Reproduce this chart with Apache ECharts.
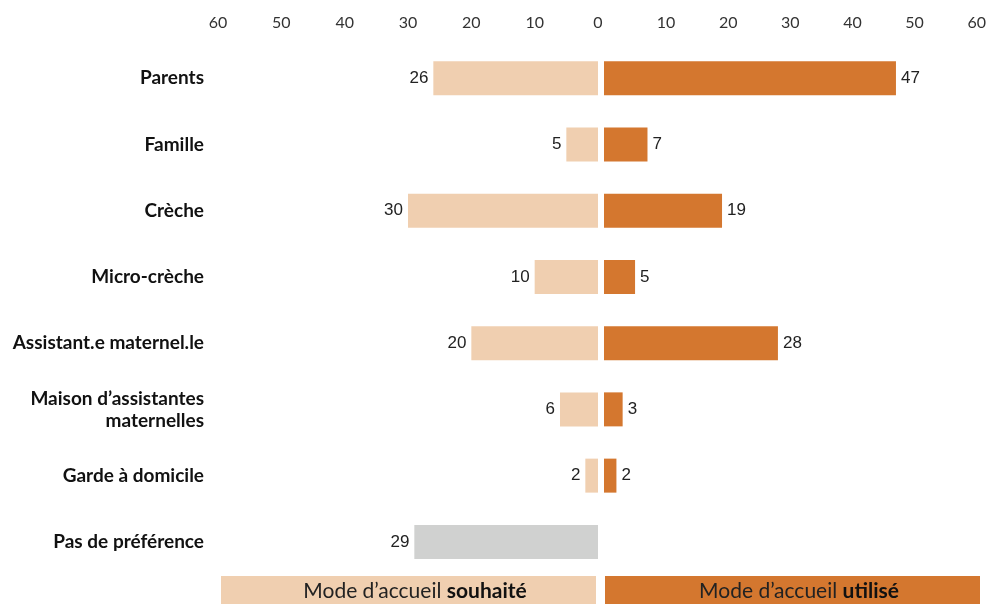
<!DOCTYPE html>
<html><head><meta charset="utf-8">
<script src="https://cdn.jsdelivr.net/npm/echarts@6/dist/echarts.min.js"></script>
<style>html,body{margin:0;padding:0;background:#fff}#c{width:989px;height:604px}</style>
</head><body><div id="c"></div>
<script>
const categories = ['Parents','Famille','Crèche','Micro-crèche','Assistant.e maternel.le',"Maison d’assistantes\nmaternelles",'Garde à domicile','Pas de préférence'];
const souhaite = [26,5,30,10,20,6,2,29];
const utilise = [47,7,19,5,28,3,2,null];
const tickMax = 60, tickStep = 10;
const colSouhaite = '#F0CFB0', colUtilise = '#D4772F', colGrey = '#D0D1D0';
const font = 'Lato, "Open Sans", sans-serif';

const chart = echarts.init(document.getElementById('c'));
const leftData = souhaite.map((v,i)=> i === categories.length-1 ? {value:v, itemStyle:{color:colGrey}} : v);
chart.setOption({
  animation:false,
  grid:[
    {left:218, width:380, top:45, bottom:29, containLabel:false},
    {left:604, width:375, top:45, bottom:29, containLabel:false}
  ],
  xAxis:[
    {gridIndex:0, type:'value', min:0, max:tickMax, interval:tickStep, inverse:true, position:'top',
     axisLine:{show:false}, axisTick:{show:false}, splitLine:{show:false},
     axisLabel:{fontSize:16, color:'#333', fontFamily:font, margin:14}},
    {gridIndex:1, type:'value', min:0, max:tickMax, interval:tickStep, position:'top',
     axisLine:{show:false}, axisTick:{show:false}, splitLine:{show:false},
     axisLabel:{fontSize:16, color:'#333', fontFamily:font, margin:14, formatter:v=> v===0 ? '' : String(v)}}
  ],
  yAxis:[
    {gridIndex:0, type:'category', data:categories, inverse:true, position:'left',
     axisLine:{show:false}, axisTick:{show:false},
     axisLabel:{fontSize:19, fontWeight:'bold', color:'#111', fontFamily:font, margin:14, align:'right', lineHeight:22}},
    {gridIndex:1, type:'category', data:categories, inverse:true,
     axisLine:{show:false}, axisTick:{show:false}, axisLabel:{show:false}}
  ],
  series:[
    {type:'bar', xAxisIndex:0, yAxisIndex:0, data:leftData, barWidth:34,
     itemStyle:{color:colSouhaite},
     label:{show:true, position:'left', distance:5, fontSize:17, color:'#222', fontFamily:'Liberation Sans, Arial, sans-serif'}},
    {type:'bar', xAxisIndex:1, yAxisIndex:1, data:utilise, barWidth:34,
     itemStyle:{color:colUtilise},
     label:{show:true, position:'right', distance:5, fontSize:17, color:'#222', fontFamily:'Liberation Sans, Arial, sans-serif'}}
  ],
  graphic:[
    {type:'rect', left:221, top:576, shape:{width:375, height:28}, style:{fill:colSouhaite}},
    {type:'rect', left:605, top:576, shape:{width:375, height:28}, style:{fill:colUtilise}},
    {type:'text', x:415, y:591, style:{rich:{a:{fontSize:21,fontFamily:font,fill:'#222'},b:{fontSize:21,fontFamily:font,fontWeight:'bold',fill:'#111'}}, text:'{a|Mode d’accueil }{b|souhaité}', align:'center', verticalAlign:'middle'}},
    {type:'text', x:799, y:591, style:{rich:{a:{fontSize:21,fontFamily:font,fill:'#222'},b:{fontSize:21,fontFamily:font,fontWeight:'bold',fill:'#111'}}, text:'{a|Mode d’accueil }{b|utilisé}', align:'center', verticalAlign:'middle'}}
  ]
});
</script></body></html>
